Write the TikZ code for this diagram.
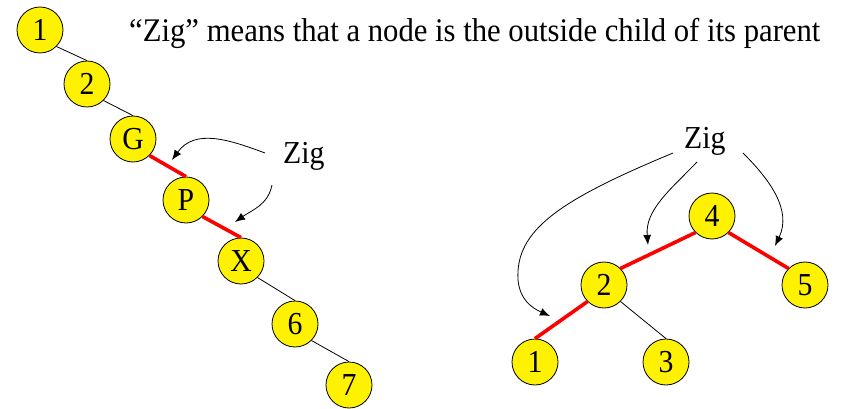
\documentclass[tikz,border=0pt]{standalone}
\usepackage{fontspec}
\setmainfont[FakeStretch=0.93]{Liberation Serif}
\usetikzlibrary{arrows.meta}
\begin{document}
\begin{tikzpicture}[x=1pt,y=-1pt,
  tnode/.style={circle,draw=black,line width=0.8pt,fill=yellow,minimum size=46pt,inner sep=0pt,font=\fontsize{32}{36}\selectfont},
  thin edge/.style={draw=black,line width=0.8pt},
  zig edge/.style={draw=red,line width=3.6pt},
  label text/.style={anchor=base west,inner sep=0pt,font=\fontsize{32}{36}\selectfont},
  pointer/.style={draw=black,line width=0.8pt,-{Latex[length=10pt,width=8pt]}}]
\useasboundingbox (0,0) rectangle (846,409);
% header
\node[label text,font=\fontsize{33}{36}\selectfont] (head) at (129,42) {“Zig” means that a node is the outside child of its parent};
% left chain
\node[tnode] (a1) at (40,30) {1};
\node[tnode] (a2) at (87,84) {2};
\node[tnode] (aG) at (133,139) {G};
\node[tnode] (aP) at (186,200) {P};
\node[tnode] (aX) at (241,261) {X};
\node[tnode] (a6) at (295,324) {6};
\node[tnode] (a7) at (349,385) {7};
\draw[thin edge] (a1.south east) -- (a2.north);
\draw[thin edge] (a2.south east) -- (aG.north);
\draw[zig edge] (aG.south east) -- (aP.north);
\draw[zig edge] (aP.south east) -- (aX.north);
\draw[thin edge] (aX.south east) -- (a6.north);
\draw[thin edge] (a6.south east) -- (a7.north);
% right tree
\node[tnode] (b4) at (712,216) {4};
\node[tnode] (b2) at (604,285) {2};
\node[tnode] (b5) at (805,285) {5};
\node[tnode] (b1) at (535,362) {1};
\node[tnode] (b3) at (666,362) {3};
\draw[zig edge] (b4.south west) -- (b2.north east);
\draw[zig edge] (b4.south east) -- (b5.north west);
\draw[zig edge] (b2.south west) -- (b1.north);
\draw[thin edge] (b2.south east) -- (b3.north);
% labels
\node[label text] (zl) at (283,164) {Zig};
\node[label text] (zr) at (684,149) {Zig};
% pointer ends
\coordinate (sl1) at (265,153);
\coordinate (tl1) at (172,160);
\coordinate (sl2) at (272,185);
\coordinate (tl2) at (235,222);
\coordinate (sr1) at (673,153);
\coordinate (mr1) at (518,280);
\coordinate (tr1) at (550,316);
\coordinate (sr2) at (697,162);
\coordinate (tr2) at (648,245);
\coordinate (sr3) at (743,153);
\coordinate (tr3) at (775,246);
\draw[pointer] (sl1) .. controls (230,140) and (195,128) .. (tl1);
\draw[pointer] (sl2) .. controls (268,205) and (252,210) .. (tl2);
\draw[pointer] (sr1) .. controls (560,200) and (515,230) .. (mr1) .. controls (520,300) and (532,308) .. (tr1);
\draw[pointer] (sr2) .. controls (670,190) and (645,210) .. (tr2);
\draw[pointer] (sr3) .. controls (770,180) and (792,210) .. (tr3);
\end{tikzpicture}
\end{document}
